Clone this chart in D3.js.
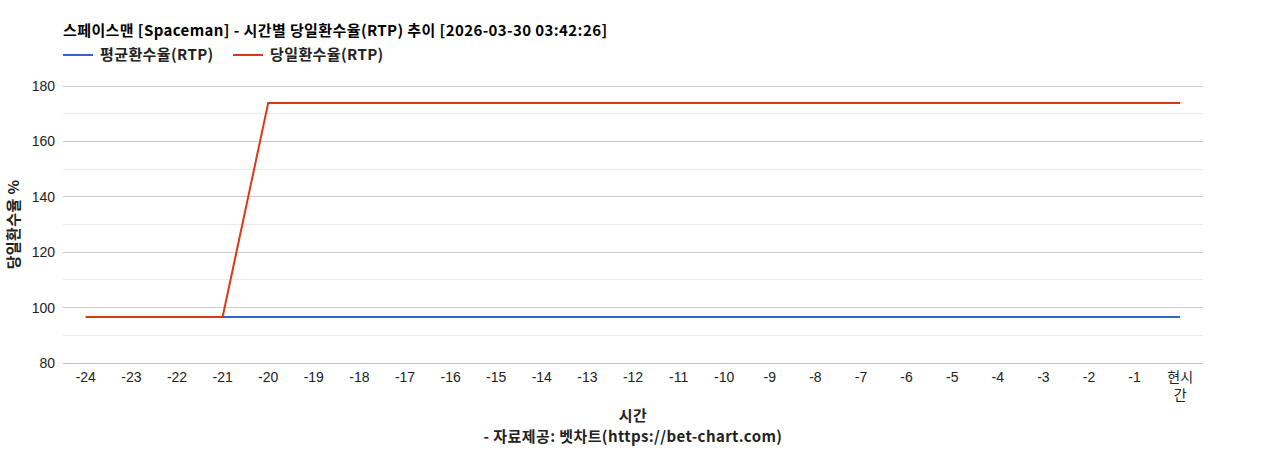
<!DOCTYPE html>
<html><head><meta charset="utf-8">
<script src="https://cdn.jsdelivr.net/npm/d3@7"></script>
<style>body{margin:0;background:#fff}svg{display:block}</style>
</head><body>
<svg id="c" width="1268" height="450"></svg>
<script>
const categories = ["-24","-23","-22","-21","-20","-19","-18","-17","-16","-15","-14","-13","-12","-11","-10","-9","-8","-7","-6","-5","-4","-3","-2","-1","현시간"];
const avgRTP = [96.6,96.6,96.6,96.6,96.6,96.6,96.6,96.6,96.6,96.6,96.6,96.6,96.6,96.6,96.6,96.6,96.6,96.6,96.6,96.6,96.6,96.6,96.6,96.6,96.6];
const dayRTP = [96.6,96.6,96.6,96.6,173.9,173.9,173.9,173.9,173.9,173.9,173.9,173.9,173.9,173.9,173.9,173.9,173.9,173.9,173.9,173.9,173.9,173.9,173.9,173.9,173.9];
const yTicks = [80,100,120,140,160,180];
const yMinor = [90,110,130,150,170];
const seriesNames = ["평균환수율(RTP)","당일환수율(RTP)"];
const colors = ["#3366cc","#dc3912"];

const svg = d3.select("#c");
const L=63,R=1203,T=86,B=363;
const x = d3.scalePoint().domain(categories).range([L,R]).padding(0.5);
const y = d3.scaleLinear().domain([80,180]).range([B,T]);
const kfont = "'Noto Sans CJK KR','Noto Sans',sans-serif";
const afont = "'Liberation Sans',Arial,sans-serif";

svg.append("g").selectAll("line").data(yMinor).join("line")
  .attr("x1",L).attr("x2",R).attr("y1",d=>y(d)).attr("y2",d=>y(d))
  .attr("stroke","#ebebeb").attr("stroke-width",1).attr("shape-rendering","crispEdges");
svg.append("g").selectAll("line").data(yTicks).join("line")
  .attr("x1",L).attr("x2",R).attr("y1",d=>y(d)).attr("y2",d=>y(d))
  .attr("stroke",d=>d===80?"#bdbdbd":"#cccccc").attr("stroke-width",1).attr("shape-rendering","crispEdges");

svg.append("g").selectAll("text").data(yTicks).join("text")
  .attr("x",L-8).attr("y",d=>y(d)+5).attr("text-anchor","end")
  .attr("font-family",afont).attr("font-size",14).attr("fill","#222").text(d=>d);

const xg = svg.append("g");
categories.forEach(d=>{
  if(d==="현시간"){
    xg.append("text").attr("x",x(d)).attr("y",382).attr("text-anchor","middle")
      .attr("font-family",kfont).attr("font-size",14).attr("fill","#222").text("현시");
    xg.append("text").attr("x",x(d)).attr("y",400).attr("text-anchor","middle")
      .attr("font-family",kfont).attr("font-size",14).attr("fill","#222").text("간");
  } else {
    xg.append("text").attr("x",x(d)).attr("y",382).attr("text-anchor","middle")
      .attr("font-family",afont).attr("font-size",14).attr("fill","#222").text(d);
  }
});

const line = d3.line().x((d,i)=>x(categories[i])).y(d=>y(d));
[avgRTP,dayRTP].forEach((s,i)=>{
  svg.append("path").datum(s).attr("d",line).attr("fill","none")
    .attr("stroke",colors[i]).attr("stroke-width",2);
});

function bold(sel){return sel.attr("font-family",kfont).attr("font-size",14).attr("font-weight","bold").attr("letter-spacing","0.4px").attr("fill","#222");}

bold(svg.append("text").attr("x",L).attr("y",36)).attr("fill","#000").attr("font-size",15)
  .text("스페이스맨 [Spaceman] - 시간별 당일환수율(RTP) 추이 [2026-03-30 03:42:26]");

const legX=[63,233];
seriesNames.forEach((n,i)=>{
  svg.append("line").attr("x1",legX[i]).attr("x2",legX[i]+30).attr("y1",55).attr("y2",55)
    .attr("stroke",colors[i]).attr("stroke-width",2);
  bold(svg.append("text").attr("x",legX[i]+37).attr("y",60)).attr("font-size",15).text(n);
});

bold(svg.append("text").attr("transform",`translate(19,${(T+B)/2}) rotate(-90)`)
  .attr("text-anchor","middle")).attr("font-size",15).text("당일환수율 %");

bold(svg.append("text").attr("x",(L+R)/2).attr("y",421).attr("text-anchor","middle")).attr("font-size",15).text("시간");
bold(svg.append("text").attr("x",(L+R)/2).attr("y",442).attr("text-anchor","middle")).attr("font-size",15).text("- 자료제공: 벳차트(https://bet-chart.com)");
</script>
</body></html>
